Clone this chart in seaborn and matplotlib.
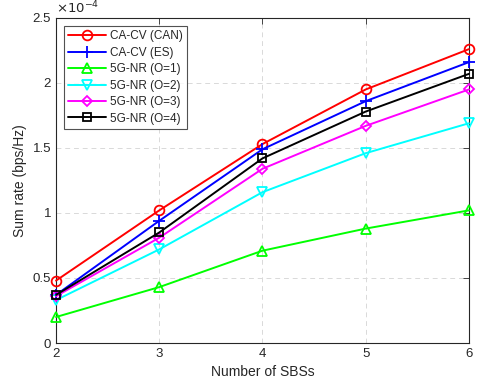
import matplotlib
matplotlib.use("Agg")
import matplotlib.pyplot as plt
import seaborn as sns
import pandas as pd
from matplotlib.ticker import FuncFormatter

sns.set_style("white")
plt.rcParams['font.family'] = ['Liberation Sans', 'DejaVu Sans']

sbs = [2, 3, 4, 5, 6]
can = [0.48, 1.02, 1.53, 1.95, 2.26]
es = [0.37, 0.94, 1.49, 1.86, 2.16]
o1 = [0.20, 0.43, 0.71, 0.88, 1.02]
o2 = [0.33, 0.72, 1.16, 1.46, 1.69]
o3 = [0.36, 0.81, 1.34, 1.67, 1.95]
o4 = [0.37, 0.85, 1.42, 1.78, 2.07]
names = ["CA-CV (CAN)", "CA-CV (ES)", "5G-NR (O=1)", "5G-NR (O=2)", "5G-NR (O=3)", "5G-NR (O=4)"]
series = [can, es, o1, o2, o3, o4]
colors = ["#ff0000", "#0000ff", "#00ff00", "#00ffff", "#ff00ff", "#000000"]
markers = ["o", "+", "^", "v", "D", "s"]
msizes = [7, 9, 7, 7, 5.5, 6]

fig = plt.figure(figsize=(4.79, 3.90), dpi=100)
ax = fig.add_axes([0.117, 0.1205, 0.862, 0.8335])

for name, vals, c, m, ms in zip(names, series, colors, markers, msizes):
    df = pd.DataFrame({"x": sbs, "y": vals})
    sns.lineplot(data=df, x="x", y="y", ax=ax, color=c, marker=m, markersize=ms,
                 markerfacecolor='none', markeredgecolor=c, markeredgewidth=1.3,
                 linewidth=1.4, label=name, clip_on=False, zorder=3)

ax.set_xlim(2, 6)
ax.set_ylim(0, 2.5)
ax.set_xticks(sbs)
ax.set_yticks([0, 0.5, 1, 1.5, 2, 2.5])
ax.yaxis.set_major_formatter(FuncFormatter(lambda v, p: f"{v:g}"))
ax.grid(True, linestyle=(0, (5, 4)), color="#d9d9d9", linewidth=0.7)
for s in ax.spines.values():
    s.set_color("#262626")
    s.set_linewidth(0.8)
ax.tick_params(direction="in", length=4, width=0.6, colors="#262626", labelsize=9.5, top=True, right=True,
               labeltop=False, labelright=False)
ax.set_xlabel("Number of SBSs", fontsize=10, color="#262626")
ax.set_ylabel("Sum rate (bps/Hz)", fontsize=10, color="#262626")
ax.text(0.0, 1.005, r"$\times10^{-4}$", transform=ax.transAxes, fontsize=9.5, color="#262626",
        ha="left", va="bottom")

leg = ax.legend(loc="upper left", bbox_to_anchor=(0.02, 0.975), fontsize=8.5, handlelength=3.2,
                frameon=True, fancybox=False, edgecolor="#262626", borderpad=0.35,
                labelspacing=0.38, handletextpad=0.3, borderaxespad=0)
leg.get_frame().set_linewidth(0.8)
leg.set_zorder(5)

fig.savefig("out.png", dpi=100)
